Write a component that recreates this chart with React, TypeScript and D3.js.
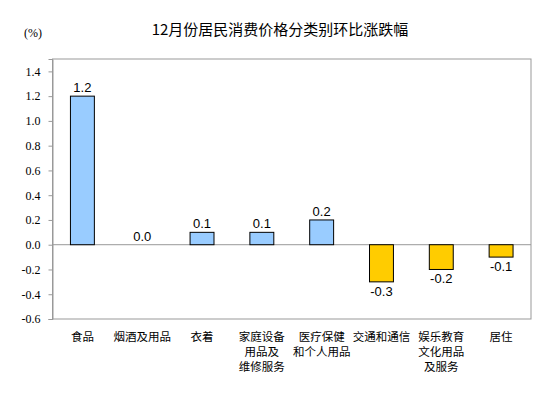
import { useEffect, useRef } from "react";
import * as d3 from "d3";

const categories = [
  ["食品"],
  ["烟酒及用品"],
  ["衣着"],
  ["家庭设备", "用品及", "维修服务"],
  ["医疗保健", "和个人用品"],
  ["交通和通信"],
  ["娱乐教育", "文化用品", "及服务"],
  ["居住"],
];
const values = [1.2, 0.0, 0.1, 0.1, 0.2, -0.3, -0.2, -0.1];
const yTicks = [1.4, 1.2, 1.0, 0.8, 0.6, 0.4, 0.2, 0.0, -0.2, -0.4, -0.6];

const W = 554;
const H = 398;

// hyphen minus, like the original
const fmt = (v: number) => (v < 0 ? "-" : "") + Math.abs(v).toFixed(1);

export default function App() {
  const svgRef = useRef<SVGSVGElement>(null);

  useEffect(() => {
    if (!svgRef.current) return;
    const svg = d3.select(svgRef.current);
    svg.selectAll("*").remove();

    const left = 52.5, right = 531, top = 59, bottom = 319;
    const x = d3.scaleBand<number>().domain(d3.range(values.length)).range([left, right]).paddingInner(0.6).paddingOuter(0.3);
    const y = d3.scaleLinear().domain([-0.6, 1.5]).range([bottom, top]);

    // title
    svg.append("text")
      .attr("x", 280).attr("y", 35)
      .attr("text-anchor", "middle")
      .attr("font-family", "'Noto Sans CJK SC', sans-serif")
      .attr("font-size", 15)
      .attr("fill", "#000")
      .text("12月份居民消费价格分类别环比涨跌幅");

    svg.append("text")
      .attr("x", 33).attr("y", 37)
      .attr("text-anchor", "middle")
      .attr("font-family", "'Liberation Serif', serif")
      .attr("font-size", 12)
      .text("(%)");

    // frame
    svg.append("rect")
      .attr("x", left).attr("y", top)
      .attr("width", right - left).attr("height", bottom - top)
      .attr("fill", "none").attr("stroke", "#999").attr("stroke-width", 1);

    // y axis
    const yAxis = svg.append("g")
      .attr("transform", `translate(${left},0)`)
      .call(d3.axisLeft(y).tickValues(yTicks).tickSize(4).tickFormat((d) => fmt(+d)));
    yAxis.select(".domain").attr("stroke", "#999");
    yAxis.selectAll(".tick line").attr("stroke", "#999");
    yAxis.selectAll(".tick text")
      .attr("x", -12)
      .attr("font-family", "'Liberation Serif', serif")
      .attr("font-size", 12)
      .attr("fill", "#000");

    // zero line
    svg.append("line")
      .attr("x1", left).attr("x2", right)
      .attr("y1", y(0)).attr("y2", y(0))
      .attr("stroke", "#999");

    // bars
    svg.append("g").selectAll("rect")
      .data(values.map((v, i) => ({ v, i })).filter((d) => d.v !== 0))
      .enter().append("rect")
      .attr("x", (d) => x(d.i)!)
      .attr("width", x.bandwidth())
      .attr("y", (d) => y(Math.max(0, d.v)))
      .attr("height", (d) => Math.abs(y(d.v) - y(0)))
      .attr("fill", (d) => (d.v > 0 ? "#99CCFF" : "#FFCC00"))
      .attr("stroke", "#000").attr("stroke-width", 1);

    // value labels
    svg.append("g").selectAll("text")
      .data(values.map((v, i) => ({ v, i })))
      .enter().append("text")
      .attr("x", (d) => x(d.i)! + x.bandwidth() / 2)
      .attr("y", (d) => (d.v >= 0 ? y(d.v) - 4 : y(d.v) + 14))
      .attr("text-anchor", "middle")
      .attr("font-family", "'Liberation Sans', Arial, sans-serif")
      .attr("font-size", 13)
      .attr("fill", "#000")
      .text((d) => fmt(d.v));

    // category labels, one text per line
    categories.forEach((lines, i) => {
      lines.forEach((line, k) => {
        svg.append("text")
          .attr("x", x(i)! + x.bandwidth() / 2)
          .attr("y", 341 + k * 15)
          .attr("text-anchor", "middle")
          .attr("font-family", "'Noto Sans CJK SC', sans-serif")
          .attr("font-size", 11.5)
          .attr("fill", "#000")
          .text(line);
      });
    });
  }, []);

  return (
    <svg
      ref={svgRef}
      width={W}
      height={H}
      style={{ position: "absolute", left: 0, top: 0, background: "#fff" }}
    />
  );
}
